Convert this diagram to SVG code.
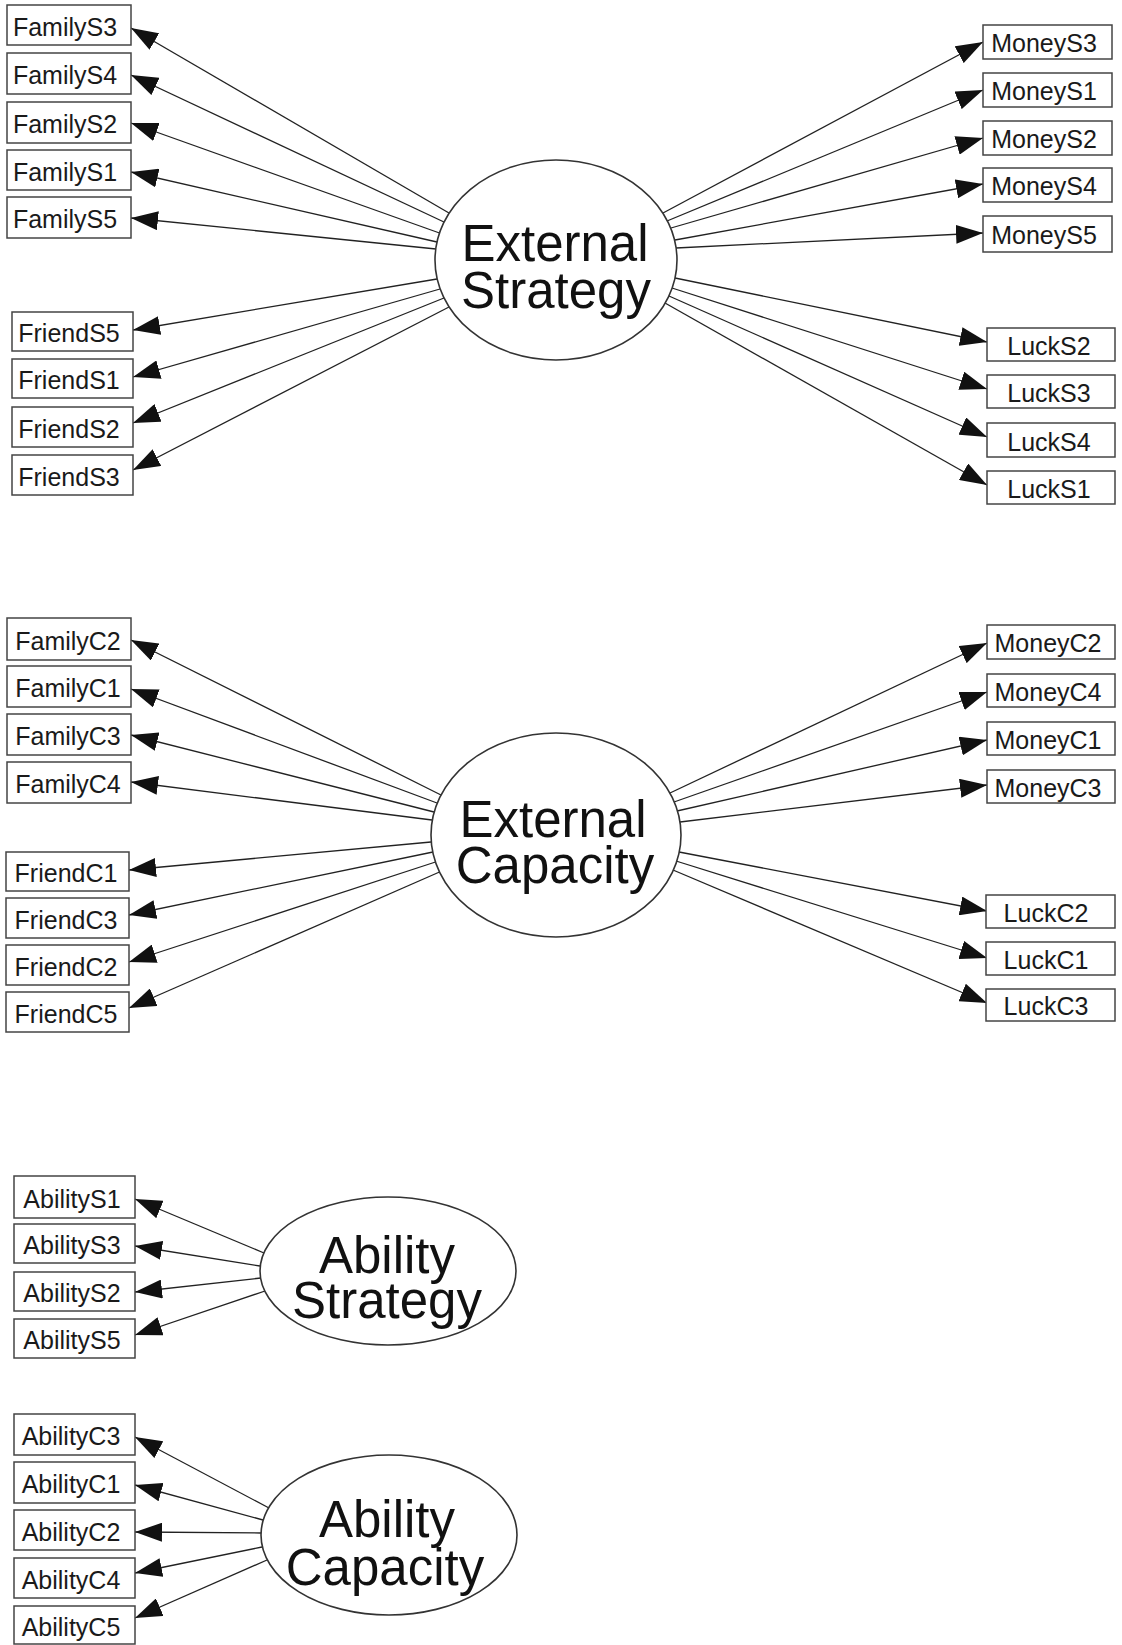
<svg xmlns="http://www.w3.org/2000/svg" width="1122" height="1645" viewBox="0 0 1122 1645">
  <defs>
    <marker id="arrow" markerUnits="userSpaceOnUse" markerWidth="27" markerHeight="19" refX="27" refY="9.5" orient="auto">
      <path d="M0,0 L27,9.5 L0,19 z" fill="#111"/>
    </marker>
    <style>
      .box rect { fill: #fff; stroke: #444; stroke-width: 1.5; }
      .box text { font-family: "Liberation Sans", Arial, Helvetica, sans-serif; font-size: 25px; fill: #1a1a1a; text-anchor: middle; }
      .latent ellipse { fill: #fff; stroke: #333; stroke-width: 1.6; }
      .latent text { font-family: "Liberation Sans", Arial, Helvetica, sans-serif; font-size: 51px; fill: #111; text-anchor: middle; }
      #connectors line { stroke: #222; stroke-width: 1.3; marker-end: url(#arrow); }
    </style>
  </defs>
  <rect x="0" y="0" width="1122" height="1645" fill="#fff"/>

  <!-- loadings: latent factor to indicator -->
  <g id="connectors">
    <!-- External Strategy -->
    <line x1="449" y1="213" x2="131" y2="28"/>
    <line x1="444" y1="222" x2="131" y2="75"/>
    <line x1="439.5" y1="233" x2="131" y2="123"/>
    <line x1="437" y1="242" x2="131" y2="172"/>
    <line x1="436" y1="249" x2="131" y2="218"/>
    <line x1="437" y1="279" x2="133" y2="330"/>
    <line x1="440" y1="289" x2="133" y2="377"/>
    <line x1="444" y1="298" x2="133" y2="423"/>
    <line x1="449" y1="307" x2="133" y2="470"/>
    <line x1="663" y1="213" x2="983" y2="42"/>
    <line x1="667" y1="221" x2="983" y2="90"/>
    <line x1="671" y1="228" x2="983" y2="138"/>
    <line x1="675" y1="240" x2="983" y2="184"/>
    <line x1="676" y1="248" x2="983" y2="233"/>
    <line x1="675" y1="278" x2="987" y2="342"/>
    <line x1="672" y1="288" x2="987" y2="389"/>
    <line x1="669" y1="296" x2="987" y2="437"/>
    <line x1="665" y1="303" x2="987" y2="485"/>
    <!-- External Capacity -->
    <line x1="441" y1="795" x2="131" y2="640"/>
    <line x1="437" y1="803" x2="131" y2="689"/>
    <line x1="434" y1="812" x2="131" y2="735"/>
    <line x1="432" y1="820" x2="131" y2="782"/>
    <line x1="431" y1="842" x2="129" y2="870"/>
    <line x1="433" y1="852" x2="129" y2="915"/>
    <line x1="435.5" y1="862" x2="129" y2="962"/>
    <line x1="439.5" y1="872" x2="129" y2="1008"/>
    <line x1="670" y1="793" x2="987" y2="643"/>
    <line x1="674" y1="802" x2="987" y2="692"/>
    <line x1="677" y1="811" x2="987" y2="740"/>
    <line x1="680" y1="822" x2="987" y2="785"/>
    <line x1="679" y1="852" x2="987" y2="911"/>
    <line x1="676" y1="861" x2="987" y2="958"/>
    <line x1="673" y1="870" x2="987" y2="1003"/>
    <!-- Ability Strategy -->
    <line x1="264" y1="1253" x2="135" y2="1199"/>
    <line x1="260" y1="1266" x2="135" y2="1246"/>
    <line x1="261" y1="1278" x2="135" y2="1292"/>
    <line x1="265" y1="1291" x2="135" y2="1335"/>
    <!-- Ability Capacity -->
    <line x1="269" y1="1508" x2="135" y2="1437"/>
    <line x1="263" y1="1520" x2="135" y2="1485"/>
    <line x1="261" y1="1533" x2="135" y2="1532"/>
    <line x1="262" y1="1547" x2="135" y2="1573"/>
    <line x1="267" y1="1560" x2="135" y2="1618"/>
  </g>

  <!-- latent factors -->
  <g id="ExternalStrategy" class="latent">
    <ellipse cx="556" cy="260" rx="121" ry="100"/>
    <text x="555" y="261">External</text>
    <text x="556" y="308">Strategy</text>
  </g>
  <g id="ExternalCapacity" class="latent">
    <ellipse cx="556" cy="835" rx="125" ry="102"/>
    <text x="553" y="837">External</text>
    <text x="555" y="883">Capacity</text>
  </g>
  <g id="AbilityStrategy" class="latent">
    <ellipse cx="388" cy="1271" rx="128" ry="74"/>
    <text x="387" y="1273">Ability</text>
    <text x="387" y="1318">Strategy</text>
  </g>
  <g id="AbilityCapacity" class="latent">
    <ellipse cx="389" cy="1535" rx="128" ry="80"/>
    <text x="387" y="1537">Ability</text>
    <text x="385" y="1585">Capacity</text>
  </g>

  <!-- indicators: External Strategy -->
  <g id="FamilyS3" class="box"><rect x="7" y="5" width="124" height="40"/><text x="65" y="36">FamilyS3</text></g>
  <g id="FamilyS4" class="box"><rect x="7" y="53" width="124" height="41"/><text x="65" y="84">FamilyS4</text></g>
  <g id="FamilyS2" class="box"><rect x="7" y="102" width="124" height="41"/><text x="65" y="133">FamilyS2</text></g>
  <g id="FamilyS1" class="box"><rect x="7" y="150" width="124" height="40"/><text x="65" y="181">FamilyS1</text></g>
  <g id="FamilyS5" class="box"><rect x="7" y="197" width="124" height="41"/><text x="65" y="228">FamilyS5</text></g>

  <g id="FriendS5" class="box"><rect x="12" y="312" width="121" height="39"/><text x="69" y="342">FriendS5</text></g>
  <g id="FriendS1" class="box"><rect x="12" y="359" width="121" height="39"/><text x="69" y="389">FriendS1</text></g>
  <g id="FriendS2" class="box"><rect x="12" y="407" width="121" height="40"/><text x="69" y="438">FriendS2</text></g>
  <g id="FriendS3" class="box"><rect x="12" y="455" width="121" height="40"/><text x="69" y="486">FriendS3</text></g>

  <g id="MoneyS3" class="box"><rect x="983" y="25" width="129" height="34"/><text x="1044" y="52">MoneyS3</text></g>
  <g id="MoneyS1" class="box"><rect x="983" y="73" width="129" height="34"/><text x="1044" y="100">MoneyS1</text></g>
  <g id="MoneyS2" class="box"><rect x="983" y="121" width="129" height="34"/><text x="1044" y="148">MoneyS2</text></g>
  <g id="MoneyS4" class="box"><rect x="983" y="168" width="129" height="34"/><text x="1044" y="195">MoneyS4</text></g>
  <g id="MoneyS5" class="box"><rect x="983" y="216" width="129" height="36"/><text x="1044" y="244">MoneyS5</text></g>

  <g id="LuckS2" class="box"><rect x="987" y="328" width="128" height="33"/><text x="1049" y="355">LuckS2</text></g>
  <g id="LuckS3" class="box"><rect x="987" y="375" width="128" height="33"/><text x="1049" y="402">LuckS3</text></g>
  <g id="LuckS4" class="box"><rect x="987" y="423" width="128" height="34"/><text x="1049" y="451">LuckS4</text></g>
  <g id="LuckS1" class="box"><rect x="987" y="471" width="128" height="33"/><text x="1049" y="498">LuckS1</text></g>

  <!-- indicators: External Capacity -->
  <g id="FamilyC2" class="box"><rect x="7" y="618" width="124" height="42"/><text x="68" y="650">FamilyC2</text></g>
  <g id="FamilyC1" class="box"><rect x="7" y="666" width="124" height="41"/><text x="68" y="697">FamilyC1</text></g>
  <g id="FamilyC3" class="box"><rect x="7" y="714" width="124" height="41"/><text x="68" y="745">FamilyC3</text></g>
  <g id="FamilyC4" class="box"><rect x="7" y="762" width="124" height="41"/><text x="68" y="793">FamilyC4</text></g>

  <g id="FriendC1" class="box"><rect x="6" y="852" width="123" height="39"/><text x="66" y="882">FriendC1</text></g>
  <g id="FriendC3" class="box"><rect x="6" y="898" width="123" height="40"/><text x="66" y="929">FriendC3</text></g>
  <g id="FriendC2" class="box"><rect x="6" y="945" width="123" height="40"/><text x="66" y="976">FriendC2</text></g>
  <g id="FriendC5" class="box"><rect x="6" y="992" width="123" height="40"/><text x="66" y="1023">FriendC5</text></g>

  <g id="MoneyC2" class="box"><rect x="987" y="625" width="128" height="34"/><text x="1048" y="652">MoneyC2</text></g>
  <g id="MoneyC4" class="box"><rect x="987" y="674" width="128" height="33"/><text x="1048" y="701">MoneyC4</text></g>
  <g id="MoneyC1" class="box"><rect x="987" y="722" width="128" height="33"/><text x="1048" y="749">MoneyC1</text></g>
  <g id="MoneyC3" class="box"><rect x="987" y="770" width="128" height="33"/><text x="1048" y="797">MoneyC3</text></g>

  <g id="LuckC2" class="box"><rect x="986" y="895" width="129" height="33"/><text x="1046" y="922">LuckC2</text></g>
  <g id="LuckC1" class="box"><rect x="986" y="942" width="129" height="33"/><text x="1046" y="969">LuckC1</text></g>
  <g id="LuckC3" class="box"><rect x="986" y="989" width="129" height="32"/><text x="1046" y="1015">LuckC3</text></g>

  <!-- indicators: Ability Strategy -->
  <g id="AbilityS1" class="box"><rect x="14" y="1176" width="121" height="42"/><text x="72" y="1208">AbilityS1</text></g>
  <g id="AbilityS3" class="box"><rect x="14" y="1224" width="121" height="39"/><text x="72" y="1254">AbilityS3</text></g>
  <g id="AbilityS2" class="box"><rect x="14" y="1272" width="121" height="39"/><text x="72" y="1302">AbilityS2</text></g>
  <g id="AbilityS5" class="box"><rect x="14" y="1319" width="121" height="39"/><text x="72" y="1349">AbilityS5</text></g>

  <!-- indicators: Ability Capacity -->
  <g id="AbilityC3" class="box"><rect x="14" y="1414" width="121" height="41"/><text x="71" y="1445">AbilityC3</text></g>
  <g id="AbilityC1" class="box"><rect x="14" y="1462" width="121" height="41"/><text x="71" y="1493">AbilityC1</text></g>
  <g id="AbilityC2" class="box"><rect x="14" y="1510" width="121" height="40"/><text x="71" y="1541">AbilityC2</text></g>
  <g id="AbilityC4" class="box"><rect x="14" y="1558" width="121" height="40"/><text x="71" y="1589">AbilityC4</text></g>
  <g id="AbilityC5" class="box"><rect x="14" y="1606" width="121" height="38"/><text x="71" y="1636">AbilityC5</text></g>
</svg>
